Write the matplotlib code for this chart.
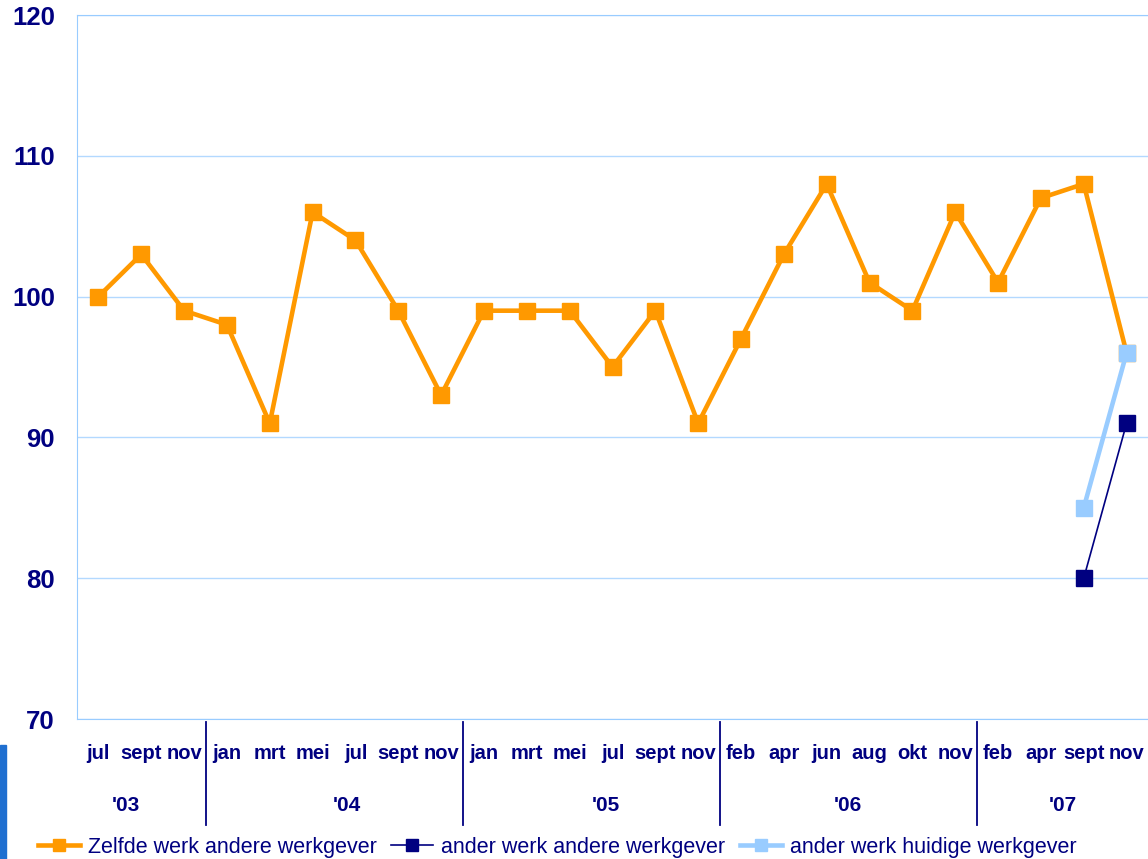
import numpy as np
import matplotlib
matplotlib.use("Agg")
import matplotlib.pyplot as plt
from matplotlib.patches import Rectangle

plt.rcParams['font.family'] = ['Liberation Sans', 'DejaVu Sans']

NAVY = "#000080"
ORANGE = "#FF9900"
LIGHT = "#99CCFF"
GRID = "#B3D9FF"

months = ["jul", "sept", "nov",
          "jan", "mrt", "mei", "jul", "sept", "nov",
          "jan", "mrt", "mei", "jul", "sept", "nov",
          "feb", "apr", "jun", "aug", "okt", "nov",
          "feb", "apr", "sept", "nov"]
years = ["'03", "'04", "'05", "'06", "'07"]
year_sizes = [3, 6, 6, 6, 4]

zelfde = [100, 103, 99, 98, 91, 106, 104, 99, 93, 99, 99, 99, 95, 99, 91,
          97, 103, 108, 101, 99, 106, 101, 107, 108, 96]
ander_andere = [80, 91]       # sept '07, nov '07
ander_huidige = [85, 96]

x = np.arange(len(months))
x_last = x[-2:]

fig = plt.figure(figsize=(11.48, 8.59), dpi=100)
ax = fig.add_axes([77 / 1148, 1 - 719 / 859, 1 - 77 / 1148, (719 - 15) / 859])

ax.plot(x, zelfde, color=ORANGE, lw=3.3, marker="s", ms=11, mec=ORANGE,
        label="Zelfde werk andere werkgever", zorder=3, clip_on=False)
ax.plot(x_last, ander_andere, color=NAVY, lw=1.2, marker="s", ms=11, mec=NAVY,
        label="ander werk andere werkgever", zorder=4, clip_on=False)
ax.plot(x_last, ander_huidige, color=LIGHT, lw=3.3, marker="s", ms=11, mec=LIGHT,
        label="ander werk huidige werkgever", zorder=5, clip_on=False)

ax.set_xlim(-0.5, len(months) - 0.5)
ax.set_ylim(70, 120)
ax.set_yticks([70, 80, 90, 100, 110, 120])
ax.yaxis.grid(True, color=GRID, lw=1)
ax.set_axisbelow(True)
for s in ["left", "top", "bottom"]:
    ax.spines[s].set_color(LIGHT)
ax.spines["right"].set_visible(False)

ax.set_xticks(x)
ax.set_xticklabels(months, fontsize=14.5, fontweight="bold", color=NAVY)
ax.tick_params(axis="x", length=0, pad=18)
ax.tick_params(axis="y", length=0, pad=16, labelsize=18.5, labelcolor=NAVY)
for t in ax.get_yticklabels():
    t.set_fontweight("bold")

# year groups: separators and labels
bounds = np.cumsum(year_sizes)[:-1] - 0.5
trans = ax.get_xaxis_transform()
for b in bounds:
    ax.plot([b, b], [-0.004, -0.15], color=NAVY, lw=1.3, transform=trans, clip_on=False)
year_x = [0.63, 5.8, 11.85, 17.5, 22.5]
for yx, lab in zip(year_x, years):
    ax.text(yx, -0.123, lab, transform=trans, ha="center", va="center",
            fontsize=15, fontweight="bold", color=NAVY)

fig.legend(loc="center left", bbox_to_anchor=(38 / 1148, 1 - 847 / 859), ncol=3,
           frameon=False, fontsize=15.5, handlelength=1.95, handletextpad=0.35,
           columnspacing=0.7, borderpad=0, borderaxespad=0, labelcolor=NAVY,
           markerscale=0.75)

fig.patches.append(Rectangle((0, 0), 6 / 1148, (859 - 745) / 859,
                             transform=fig.transFigure, color="#1F6FD0", zorder=0))

fig.savefig("out.png", dpi=100)
